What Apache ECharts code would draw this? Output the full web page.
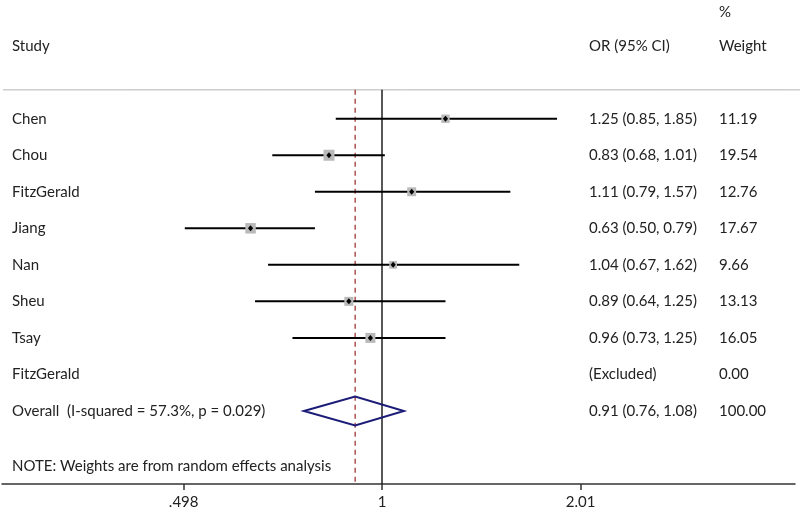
<!DOCTYPE html>
<html>
<head>
<meta charset="utf-8">
<script src="https://cdn.jsdelivr.net/npm/echarts@6/dist/echarts.min.js"></script>
<style>html,body{margin:0;padding:0;background:#fff}#c{width:800px;height:510px}</style>
</head>
<body>
<div id="c"></div>
<script>
// ---- data ----
const studies = ['Chen', 'Chou', 'FitzGerald', 'Jiang', 'Nan', 'Sheu', 'Tsay', 'FitzGerald'];
const orValues = [1.25, 0.83, 1.11, 0.63, 1.04, 0.89, 0.96, null];
const ciLower = [0.85, 0.68, 0.79, 0.50, 0.67, 0.64, 0.73, null];
const ciUpper = [1.85, 1.01, 1.57, 0.79, 1.62, 1.25, 1.25, null];
const weights = [11.19, 19.54, 12.76, 17.67, 9.66, 13.13, 16.05, 0.00];
const overallLabel = 'Overall  (I-squared = 57.3%, p = 0.029)';
const overallOR = [0.91, 0.76, 1.08];
const overallWeight = 100.00;
const xTickValues = [0.498, 1, 2.01];
const xTickLabels = ['.498', '1', '2.01'];
const noteText = 'NOTE: Weights are from random effects analysis';

// ---- layout helpers (row units on y axis) ----
const FONT = '15px Lato';
const TXT = '#222';
const headerRow = -2, percentRow = -2.92, ruleRow = -0.79, overallRow = 8, noteRow = 9.5;
const colStudy = 12, colOR = 589, colW = 719;

const chart = echarts.init(document.getElementById('c'), null, {renderer: 'canvas'});

const ln = Math.log;
const fmt = v => v.toFixed(2);

// text rows
const textRows = [];
textRows.push([headerRow, 'Study', 'OR (95% CI)', 'Weight']);
textRows.push([percentRow, '', '', '%']);
studies.forEach((s, i) => {
  const ci = orValues[i] == null ? '(Excluded)' : fmt(orValues[i]) + ' (' + fmt(ciLower[i]) + ', ' + fmt(ciUpper[i]) + ')';
  textRows.push([i, s, ci, fmt(weights[i])]);
});
textRows.push([overallRow, overallLabel, fmt(overallOR[0]) + ' (' + fmt(overallOR[1]) + ', ' + fmt(overallOR[2]) + ')', fmt(overallWeight)]);
textRows.push([noteRow, noteText, '', '']);

const ciData = [];
studies.forEach((s, i) => {
  if (orValues[i] != null) ciData.push([i, ln(ciLower[i]), ln(ciUpper[i]), ln(orValues[i]), weights[i]]);
});

const X_MIN = -1.3357, X_MAX = 1.4517;
const Y_MIN = -3.25, Y_MAX = 10;

chart.setOption({
  animation: false,
  backgroundColor: '#fff',
  grid: {left: 2, right: 5, top: 0, bottom: 25, containLabel: false},
  xAxis: {
    type: 'value', min: X_MIN, max: X_MAX,
    splitLine: {show: false},
    axisLine: {show: true, onZero: false, lineStyle: {color: '#333', width: 1.5}},
    axisTick: {show: true, length: 6, lineStyle: {color: '#333', width: 1.5},
      customValues: xTickValues.map(v => ln(v))},
    axisLabel: {show: true, margin: 11, color: TXT, fontFamily: 'Lato', fontSize: 15,
      customValues: xTickValues.map(v => ln(v)),
      formatter: function (val) {
        let best = 0, d = 1e9;
        xTickValues.forEach((t, k) => { const dd = Math.abs(ln(t) - val); if (dd < d) { d = dd; best = k; } });
        return xTickLabels[best];
      }}
  },
  yAxis: {type: 'value', min: Y_MIN, max: Y_MAX, inverse: true, show: false},
  series: [
    // header rule
    {
      type: 'custom', data: [[ruleRow]], silent: true, z: 1,
      renderItem: function (params, api) {
        const y = api.coord([0, api.value(0)])[1];
        return {type: 'line', shape: {x1: 3, y1: y, x2: 800, y2: y},
          style: {stroke: '#b4b4b4', lineWidth: 1}};
      }
    },
    // reference lines: null (1) and overall (dashed)
    {
      type: 'custom', data: [[ln(1), 0], [ln(overallOR[0]), 1]], silent: true, z: 2,
      renderItem: function (params, api) {
        const p1 = api.coord([api.value(0), ruleRow]);
        const p2 = api.coord([api.value(0), Y_MAX]);
        const dashed = api.value(1) === 1;
        return {type: 'line', shape: {x1: p1[0], y1: p1[1], x2: p2[0], y2: p2[1]},
          style: dashed ? {stroke: '#a84545', lineWidth: 1.4, lineDash: [5, 4]} : {stroke: '#111', lineWidth: 1.4}};
      }
    },
    // CI lines
    {
      type: 'custom', data: ciData, silent: true, z: 3,
      renderItem: function (params, api) {
        const y = api.coord([0, api.value(0)])[1];
        const x1 = api.coord([api.value(1), 0])[0];
        const x2 = api.coord([api.value(2), 0])[0];
        return {type: 'line', shape: {x1: x1, y1: y, x2: x2, y2: y},
          style: {stroke: '#000', lineWidth: 2}};
      }
    },
    // weight boxes + point estimate markers
    {
      type: 'custom', data: ciData, silent: true, z: 4,
      renderItem: function (params, api) {
        const p = api.coord([api.value(3), api.value(0)]);
        const s = 2.49 * Math.sqrt(api.value(4));
        return {type: 'group', children: [
          {type: 'rect', shape: {x: p[0] - s / 2, y: p[1] - s / 2, width: s, height: s},
            style: {fill: '#b9b9b9'}},
          {type: 'polygon', shape: {points: [[p[0], p[1] - 3], [p[0] + 2.6, p[1]], [p[0], p[1] + 3], [p[0] - 2.6, p[1]]]},
            style: {fill: '#000'}}
        ]};
      }
    },
    // overall diamond
    {
      type: 'custom', data: [[overallRow, ln(overallOR[1]), ln(overallOR[0]), ln(overallOR[2])]], silent: true, z: 5,
      renderItem: function (params, api) {
        const r = api.value(0);
        const y = api.coord([0, r])[1];
        const xl = api.coord([api.value(1), r])[0];
        const xc = api.coord([api.value(2), r])[0];
        const xr = api.coord([api.value(3), r])[0];
        const h = 14.5;
        return {type: 'polygon', shape: {points: [[xl, y], [xc, y - h], [xr, y], [xc, y + h]]},
          style: {fill: 'none', stroke: '#1c1c78', lineWidth: 2}};
      }
    },
    // text columns
    {
      type: 'custom', data: textRows.map(r => [r[0], 0]), silent: true, z: 6,
      renderItem: function (params, api) {
        const row = textRows[params.dataIndex];
        const y = api.coord([0, api.value(0)])[1];
        const mk = (x, t) => ({type: 'text', x: x, y: y,
          style: {text: t, font: FONT, fill: TXT, textAlign: 'left', textVerticalAlign: 'middle'}});
        return {type: 'group', children: [mk(colStudy, row[1]), mk(colOR, row[2]), mk(colW, row[3])]};
      }
    }
  ]
});
</script>
</body>
</html>
